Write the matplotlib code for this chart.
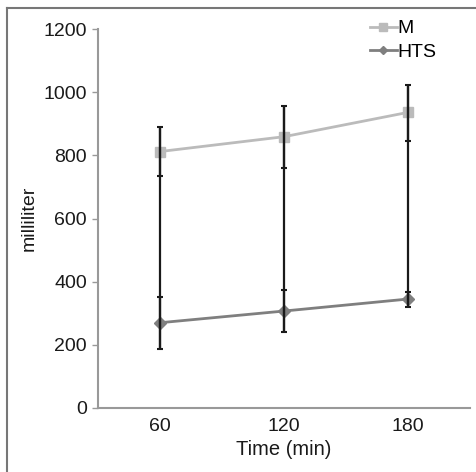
import matplotlib
import numpy as np

matplotlib.use("Agg")
import matplotlib.pyplot as plt
from matplotlib.lines import Line2D

plt.rcParams["font.family"] = ["Liberation Sans", "DejaVu Sans"]

TIMES = ["60", "120", "180"]
M_MEAN = [812, 859, 936]
M_UPPER = [890, 957, 1024]
M_LOWER = [734, 759, 845]
HTS_MEAN = [270, 307, 345]
HTS_UPPER = [352, 373, 368]
HTS_LOWER = [188, 241, 321]

fig = plt.figure(figsize=(4.76, 4.72), dpi=100)
ax = fig.add_axes([98 / 476, 1 - 408 / 472, 372 / 476, 379 / 472])
x = np.arange(len(TIMES))

m, mu, ml = map(np.array, (M_MEAN, M_UPPER, M_LOWER))
h, hu, hl = map(np.array, (HTS_MEAN, HTS_UPPER, HTS_LOWER))

ax.plot(x, m, color="#bbbbbb", lw=2, marker="s", ms=7.5, label="M", zorder=2)
ax.plot(x, h, color="#7f7f7f", lw=2, marker="D", ms=6, label="HTS", zorder=2)
# error bars: both series share one long black whisker per time point
ax.vlines(x, np.minimum(hl, ml), np.maximum(mu, hu), color="#1a1a1a", lw=1.6, zorder=3)
ax.errorbar(x, m, yerr=[m - ml, mu - m], fmt="none", ecolor="#1a1a1a",
            elinewidth=1.6, capsize=2.5, capthick=1.5, zorder=3)
ax.errorbar(x, h, yerr=[h - hl, hu - h], fmt="none", ecolor="#1a1a1a",
            elinewidth=1.6, capsize=2.5, capthick=1.5, zorder=3)

ax.set_xlim(-0.5, 2.5)
ax.set_ylim(0, 1200)
ax.set_xticks(x, TIMES)
ax.set_yticks(np.arange(0, 1201, 200))
ax.tick_params(axis="x", length=0, labelsize=14, pad=7, colors="#1a1a1a")
ax.tick_params(axis="y", length=4, width=1, color="#999999", labelsize=14, pad=4, colors="#1a1a1a")
for s in ("top", "right"):
    ax.spines[s].set_visible(False)
for s in ("left", "bottom"):
    ax.spines[s].set_color("#999999")
    ax.spines[s].set_linewidth(1.5)
ax.set_xlabel("Time (min)", fontsize=14.5, color="#1a1a1a", labelpad=4)
ax.set_ylabel("milliliter", fontsize=14, color="#1a1a1a", labelpad=4)

ax.legend(loc="upper left", bbox_to_anchor=(258 / 372, 1.06), frameon=False, fontsize=14,
          handlelength=1.4, handletextpad=0.05, labelspacing=0.3, borderpad=0.2,
          markerscale=0.7)

# outer frame (top and left edges)
fig.add_artist(Line2D([6.5 / 476, 6.5 / 476], [0, 1 - 7.5 / 472], transform=fig.transFigure,
                      color="#777777", lw=1.5))
fig.add_artist(Line2D([6.5 / 476, 1], [1 - 7.5 / 472, 1 - 7.5 / 472], transform=fig.transFigure,
                      color="#777777", lw=1.5))

fig.savefig("out.png", dpi=100)
